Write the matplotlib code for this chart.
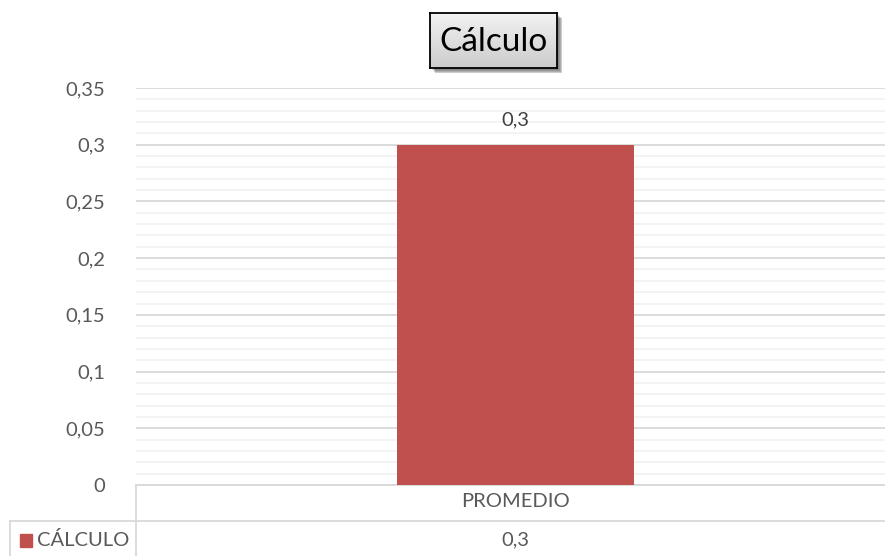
import matplotlib
matplotlib.use("Agg")
import matplotlib.pyplot as plt
import numpy as np
from matplotlib.ticker import MultipleLocator, FuncFormatter
from matplotlib.lines import Line2D
from matplotlib.patches import Rectangle

categories = ["PROMEDIO"]
series_name = "CÁLCULO"
values = [0.3]
title = "Cálculo"

plt.rcParams['font.family'] = ['Lato', 'DejaVu Sans']

W, H = 885, 556
fig = plt.figure(figsize=(W / 100, H / 100), dpi=100)
left, right, top, bottom = 136, 895, 88, 485
ax = fig.add_axes([left / W, 1 - bottom / H, (right - left) / W, (bottom - top) / H])

fmt = lambda v: ("%g" % round(v, 4)).replace(".", ",")
FS = 14.5
TC = "#595959"

x = list(range(len(categories)))
ax.bar(x, values, width=0.312, color="#c0504d", zorder=3)
for xi, v in zip(x, values):
    ax.annotate(fmt(v), (xi, v), xytext=(0, 12), textcoords="offset points",
                ha="center", va="bottom", fontsize=FS, color="#404040")

ax.set_xlim(-0.5, len(categories) - 0.5)
ax.set_ylim(0, 0.35)
ax.yaxis.set_major_locator(MultipleLocator(0.05))
ax.yaxis.set_minor_locator(MultipleLocator(0.01))
ax.yaxis.set_major_formatter(FuncFormatter(lambda v, p: fmt(v)))
ax.grid(axis="y", which="major", color="#d9d9d9", linewidth=1.3, zorder=0)
ax.grid(axis="y", which="minor", color="#f2f2f2", linewidth=1.3, zorder=0)
ax.tick_params(axis="y", which="both", length=0, labelsize=FS, labelcolor=TC, pad=22)
ax.tick_params(axis="x", which="both", length=0, labelsize=FS, labelcolor=TC, pad=6)
ax.set_xticks(x)
ax.set_xticklabels(categories)
for s in ["top", "right", "left"]:
    ax.spines[s].set_visible(False)
ax.spines["bottom"].set_color("#d9d9d9")
ax.spines["bottom"].set_linewidth(1.3)

# data table
def fx(px):
    return px / W
def fy(py):
    return 1 - py / H
lc = "#d9d9d9"
fig.add_artist(Line2D([fx(136), fx(136)], [fy(485), fy(556)], color=lc, lw=1.3))
fig.add_artist(Line2D([fx(10), fx(885)], [fy(521), fy(521)], color=lc, lw=1.3))
fig.add_artist(Line2D([fx(10), fx(10)], [fy(521), fy(556)], color=lc, lw=1.3))
fig.add_artist(Rectangle((fx(20), fy(547)), 12 / W, 13 / H, color="#c0504d"))
fig.text(fx(37), fy(540), series_name, fontsize=FS, color=TC, va="center", ha="left")
for xi, v in zip(x, values):
    xd = ax.transData.transform((xi, 0))[0] / W
    fig.text(xd, fy(540), fmt(v), fontsize=FS, color=TC, va="center", ha="center")

# title box with shadow and gradient
bx0, bx1, by0, by1 = 430, 557, 13, 68
for i, a in enumerate([0.10, 0.12, 0.15, 0.2]):
    o = 4 - i
    fig.add_artist(Rectangle((fx(bx0 + 5 - o + 1), fy(by1 + 5 - o + 1)), (bx1 - bx0) / W, (by1 - by0) / H,
                             facecolor="#000000", alpha=a, edgecolor="none", zorder=1))
tax = fig.add_axes([fx(bx0), fy(by1), (bx1 - bx0) / W, (by1 - by0) / H], zorder=5)
grad = np.linspace(0.95, 0.80, 50).reshape(-1, 1)
tax.imshow(np.repeat(grad[:, :, None], 3, axis=2) * np.ones((1, 2, 3)), aspect="auto",
           extent=(0, 1, 0, 1), origin="upper")
tax.set_xticks([])
tax.set_yticks([])
for s in tax.spines.values():
    s.set_color("#000000")
    s.set_linewidth(1.3)
tax.text(0.5, 0.47, title, fontsize=24, color="#000000", ha="center", va="center",
         transform=tax.transAxes)

fig.savefig("out.png", dpi=100, facecolor="white")
